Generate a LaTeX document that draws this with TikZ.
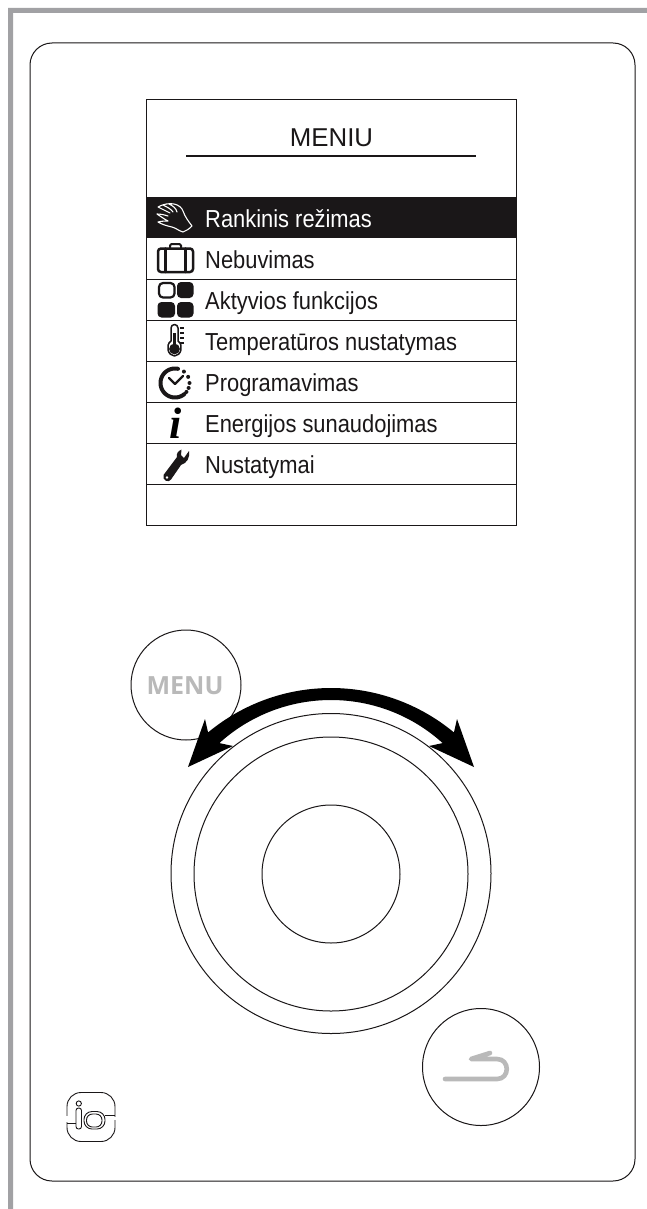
\documentclass[tikz,border=0pt]{standalone}
\usepackage{fontspec}
\setmainfont{Liberation Sans}
\newfontfamily\narrowsans[FakeStretch=0.89]{Liberation Sans}
\newfontfamily\opensansb{Open Sans}
\newfontfamily\serifb{Liberation Serif}
\definecolor{framegray}{HTML}{A1A1A4}
\definecolor{lightgray2}{HTML}{B9B9B9}
\definecolor{ink}{HTML}{1A1718}
\tikzset{
  x=1pt,y=-1pt,
  thin line/.style={draw=ink,line width=1pt},
  row text/.style={anchor=base west,inner sep=0pt,text=ink,font=\narrowsans\fontsize{24.6}{26}\selectfont},
  icon line/.style={draw=ink,line width=2.5pt,line cap=round,line join=round},
  round button/.style={circle,draw=ink,line width=1pt,fill=white,inner sep=0pt,minimum size=#1},
  ring/.style={circle,draw=ink,line width=1pt,inner sep=0pt,minimum size=#1},
}
\begin{document}
\begin{tikzpicture}
\useasboundingbox (0,0) rectangle (647,1209);
\fill[white] (0,0) rectangle (647,1209);
% grey frame
\fill[framegray] (647,8) -- (8,8) -- (8,1209) -- (13,1209) -- (13,13) -- (647,13) -- cycle;
% panel
\draw[thin line,rounded corners=22pt] (30,43) rectangle (635,1181);
% menu box
\draw[thin line] (146,100) rectangle (516,525);
\node[anchor=base,inner sep=0pt,text=ink,font=\fontsize{25.8}{27}\selectfont] (title) at (331.5,147) {MENIU};
\draw[draw=ink,line width=2pt] (186,156) -- (476,156);
\fill[ink] (146,196.5) rectangle (516,238);
\foreach \yy in {279,320,361,402,443,484}{\draw[thin line] (146,\yy) -- (516,\yy);}
\node[row text,text=white] (r1) at (205,227) {Rankinis režimas};
\node[row text] (r2) at (205,268) {Nebuvimas};
\node[row text] (r3) at (205,309) {Aktyvios funkcijos};
\node[row text] (r4) at (205,350) {Temperatūros nustatymas};
\node[row text] (r5) at (205,391) {Programavimas};
\node[row text] (r6) at (205,432) {Energijos sunaudojimas};
\node[row text] (r7) at (205,473) {Nustatymai};
% hand icon
\draw[white,line width=1.1pt,line join=round,line cap=round]
  (158,207) .. controls (163,204) and (170,203) .. (174,204)
  .. controls (179,205) and (182,208) .. (183,211)
  .. controls (185,217) and (189,222) .. (192,226)
  .. controls (189,229) and (186,231) .. (183,232)
  .. controls (179,231) and (176,228) .. (172,227)
  .. controls (167,226) and (161,224) .. (158,222)
  .. controls (162,221) and (165,221) .. (168,221)
  (168,221) .. controls (164,219) and (160,216) .. (157,214)
  (157,214) .. controls (161,214) and (165,215) .. (168,216)
  (158,207) .. controls (162,209) and (166,211) .. (170,213)
  (163,205) .. controls (167,207) and (171,209) .. (173,212)
  (169,204) .. controls (173,206) and (176,208) .. (177,212);
% suitcase
\draw[icon line,rounded corners=3pt] (158,248.5) rectangle (193,272);
\draw[icon line] (165.5,248.5) -- (165.5,272) (185.5,248.5) -- (185.5,272);
\draw[icon line,line width=2pt,rounded corners=1.5pt] (170,248) -- (170,244) -- (181,244) -- (181,248);
% function squares
\draw[icon line,line width=2.2pt,rounded corners=4pt] (159,283) rectangle (174.5,297.5);
\fill[ink,rounded corners=4pt] (177,282) rectangle (193.5,298);
\fill[ink,rounded corners=4pt] (157.5,302) rectangle (175,317.5);
\fill[ink,rounded corners=4pt] (177,302) rectangle (193.5,317.5);
% thermometer
\draw[draw=ink,line width=1.5pt,line join=round] (171,341) -- (171,328) arc[start angle=180,end angle=0,radius=3.5pt] -- (178,341)
  .. controls (184,345) and (181,356) .. (174.5,356) .. controls (168,356) and (165,345) .. (171,341) -- cycle;
\fill[ink] (174.5,349) circle[radius=5.4pt];
\fill[ink] (173,333) rectangle (176,347);
\draw[draw=ink,line width=1.1pt] (180,328) -- (184,328) (180,333) -- (184,333) (180,338) -- (184,338) (180,343) -- (184,343);
% clock
\draw[draw=ink,line width=4pt,line cap=round] plot[domain=78:310,samples=50] ({175+14.5*cos(\x)},{383-14.5*sin(\x)});
\draw[draw=ink,line width=2.2pt,line cap=round,line join=round] (169,378) -- (175,384) -- (183,376);
\foreach \aa in {52,25,0,-20,-38}{\fill[ink] ({175+14.5*cos(\aa)},{383-14.5*sin(\aa)}) circle[radius=2pt];}
% info
\node[inner sep=0pt,anchor=base,text=black,font=\serifb\bfseries\itshape\fontsize{44}{46}\selectfont] (info) at (176,438) {i};
% wrench
\fill[ink,even odd rule] (163.5,475) -- (177,457)
  .. controls (176,454) and (178,451) .. (181.5,449.5)
  -- (181,455) -- (184,458) -- (189,451)
  .. controls (190,458) and (187,463) .. (181,465)
  -- (171,479.5) .. controls (169,483) and (162,481) .. (163.5,475) -- cycle
  (167,477.5) circle[radius=1.6pt];
% dial
\node[ring=320pt] (outerring) at (331,873.5) {};
\node[ring=274pt] (innerring) at (331,874) {};
\node[ring=138pt] (knob) at (331,874) {};
% buttons
\node[round button=110pt] (menubtn) at (186,685) {};
\node[inner sep=0pt,text=lightgray2,font=\opensansb\bfseries\fontsize{25}{27}\selectfont] (menutxt) at (185,686) {MENU};
\node[round button=117pt] (backbtn) at (481,1067) {};
\draw[lightgray2,line width=4.6pt,line cap=round,line join=round]
  (445,1079) -- (497,1079) .. controls (510,1079) and (510,1059) .. (497,1059) -- (471,1059) -- (490,1053);
% double arrow
\fill[black] (188,767) -- (205,719) -- (209,736.5)
  -- plot[domain=131:49,samples=80] ({331+(186+1.5*((\x-90)/41)^2)*cos(\x)},{874-(186+1.5*((\x-90)/41)^2)*sin(\x)})
  -- (453,736.5) -- (457,719) -- (474,767) -- (429,746) -- (443,743)
  -- plot[domain=49:131,samples=80] ({331+(174-2*((\x-90)/41)^2)*cos(\x)},{874-(174-2*((\x-90)/41)^2)*sin(\x)})
  -- (219,743) -- (233,746) -- cycle;
% io logo
\draw[draw=ink,line width=0.9pt,rounded corners=14pt] (67,1092.5) rectangle (115,1141.5);
\fill[white] (64,1116) rectangle (72,1122);
\fill[white] (110,1116.5) rectangle (118,1120);
\draw[draw=ink,line width=0.9pt] (67,1123) -- (76,1123) (105,1115) -- (115,1115);
\draw[draw=ink,line width=0.9pt,rounded corners=2.5pt] (76,1108) rectangle (81.5,1129);
\draw[draw=ink,line width=0.9pt] (78.8,1103.5) circle[radius=2.6pt];
\draw[draw=ink,line width=0.9pt,rounded corners=8pt] (84,1111.5) rectangle (105,1129);
\draw[draw=ink,line width=0.9pt,rounded corners=6pt] (86.5,1114) rectangle (102,1127);
\end{tikzpicture}
\end{document}
